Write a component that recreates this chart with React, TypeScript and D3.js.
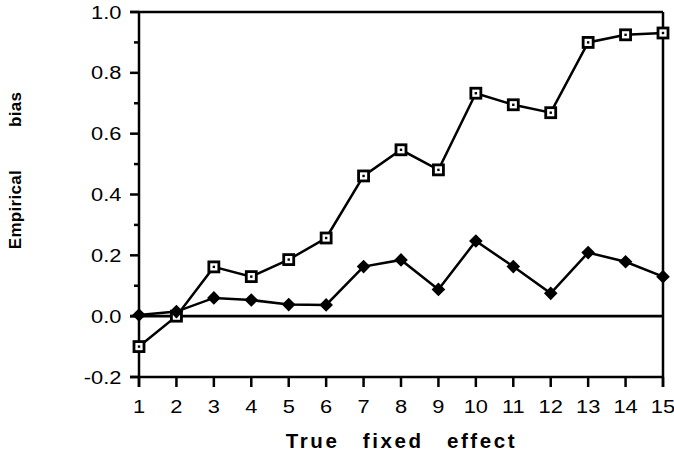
import React from "react";
import * as d3 from "d3";

const effects = [1, 2, 3, 4, 5, 6, 7, 8, 9, 10, 11, 12, 13, 14, 15];
const openSquareBias = [-0.1, 0.0, 0.162, 0.13, 0.186, 0.257, 0.461, 0.547, 0.481, 0.733, 0.695, 0.669, 0.9, 0.925, 0.931];
const filledDiamondBias = [0.004, 0.015, 0.06, 0.053, 0.038, 0.037, 0.163, 0.185, 0.088, 0.247, 0.163, 0.075, 0.209, 0.179, 0.13];
const yTicks = [-0.2, 0.0, 0.2, 0.4, 0.6, 0.8, 1.0];
const yMinorTicks = [-0.1, 0.1, 0.3, 0.5, 0.7, 0.9];

const W = 674;
const H = 456;
const left = 139;
const right = 663;
const top = 12;
const bottom = 377;

export default function App() {
  const x = d3.scaleLinear().domain([1, 15]).range([left, right]);
  const y = d3.scaleLinear().domain([-0.2, 1.0]).range([bottom, top]);
  const line = d3
    .line<number>()
    .x((_, i) => x(effects[i]))
    .y((d) => y(d));
  const font = "'Liberation Sans', Arial, Helvetica, sans-serif";
  const dsz = 6.8;
  const sx = 1.15;
  return (
    <svg
      width={W}
      height={H}
      style={{ position: "absolute", left: 0, top: 0, background: "#fff" }}
    >
      <g stroke="#000" strokeWidth={2.5} fill="none">
        <line x1={left} x2={left} y1={top} y2={bottom + 10} />
        <line x1={right} x2={right} y1={top} y2={bottom + 10} />
        <line x1={left - 9} x2={right} y1={top} y2={top} />
        <line x1={left - 9} x2={right} y1={bottom} y2={bottom} />
        <line x1={left - 9} x2={right} y1={y(0)} y2={y(0)} strokeWidth={2.8} />
        {yTicks.map((t) => (
          <line key={"yt" + t} x1={left - 9} x2={left} y1={y(t)} y2={y(t)} />
        ))}
        {yMinorTicks.map((t) => (
          <line key={"ym" + t} x1={left - 5} x2={left} y1={y(t)} y2={y(t)} />
        ))}
        {effects.map((e) => (
          <line key={"xt" + e} x1={x(e)} x2={x(e)} y1={bottom} y2={bottom + 10} />
        ))}
      </g>
      <g fontFamily={font} fontSize={19} fill="#000">
        {yTicks.map((t) => (
          <text
            key={"yl" + t}
            transform={`translate(${left - 17.5}, ${y(t)}) scale(${sx},1)`}
            dy="0.35em"
            textAnchor="end"
          >
            {t.toFixed(1)}
          </text>
        ))}
        {effects.map((e) => (
          <text
            key={"xl" + e}
            transform={`translate(${x(e)}, ${bottom + 36}) scale(${sx},1)`}
            textAnchor="middle"
          >
            {e}
          </text>
        ))}
      </g>
      <text
        x={401.5}
        y={448}
        textAnchor="middle"
        fontFamily={font}
        fontWeight="bold"
        fontSize={20.5}
        letterSpacing={2.6}
        wordSpacing={15}
      >
        True fixed effect
      </text>
      <text
        transform={`translate(20.5, 170.5) rotate(-90)`}
        textAnchor="middle"
        fontFamily={font}
        fontWeight="bold"
        fontSize={17}
        letterSpacing={0.3}
        wordSpacing={38}
      >
        Empirical bias
      </text>
      <path d={line(openSquareBias) ?? ""} fill="none" stroke="#000" strokeWidth={2.5} />
      <path d={line(filledDiamondBias) ?? ""} fill="none" stroke="#000" strokeWidth={2.5} />
      {openSquareBias.map((v, i) => (
        <g key={"sq" + i}>
          <rect
            x={x(effects[i]) - 5}
            y={y(v) - 5}
            width={10}
            height={10}
            fill="#fff"
            stroke="#000"
            strokeWidth={2.8}
          />
          <rect x={x(effects[i]) - 1.2} y={y(v) - 1.2} width={2.4} height={2.4} fill="#000" />
        </g>
      ))}
      {filledDiamondBias.map((v, i) => {
        const cx = x(effects[i]);
        const cy = y(v);
        return (
          <path
            key={"dm" + i}
            d={`M${cx},${cy - dsz}L${cx + dsz},${cy}L${cx},${cy + dsz}L${cx - dsz},${cy}Z`}
            fill="#000"
          />
        );
      })}
    </svg>
  );
}
